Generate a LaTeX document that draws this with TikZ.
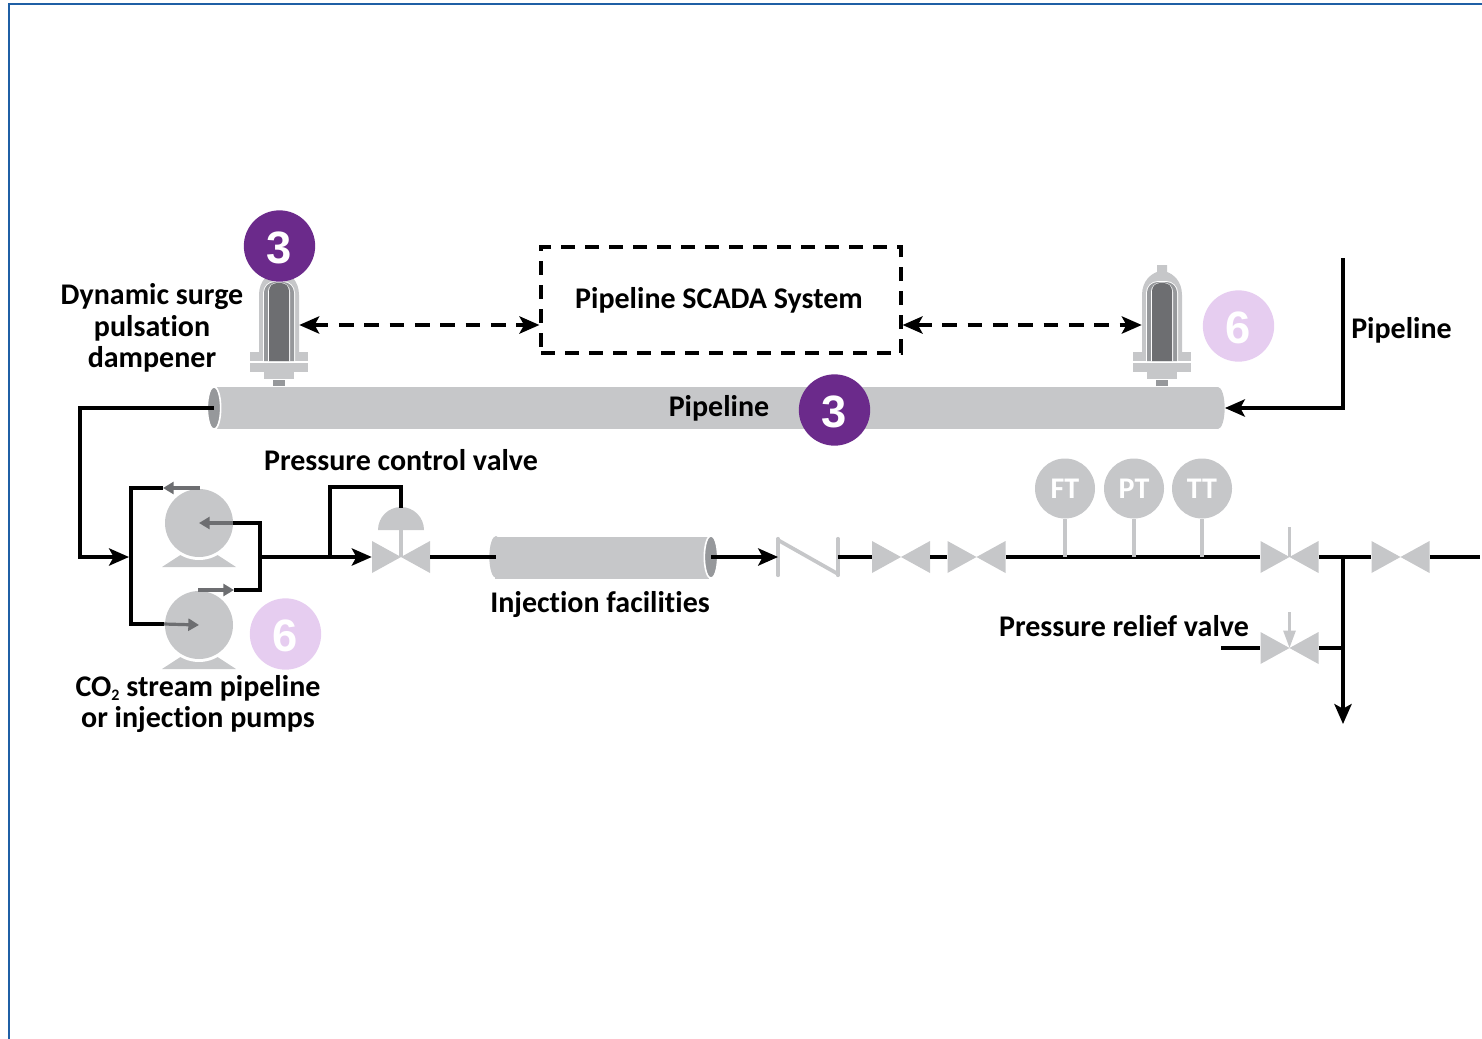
\documentclass[tikz,border=0pt]{standalone}
\usepackage{fontspec}
\setmainfont{Carlito}[Ligatures=CommonOff]
\newfontfamily\numfont{Liberation Sans}
\usetikzlibrary{arrows.meta, positioning, calc, shapes.geometric}
\definecolor{framec}{HTML}{1F5FA5}
\definecolor{pipec}{HTML}{C6C7C9}
\definecolor{pipeendc}{HTML}{96989B}
\definecolor{corec}{HTML}{6D6E71}
\definecolor{purplec}{HTML}{6B2A8B}
\definecolor{lilacc}{HTML}{E6CDF0}
\newcommand{\dampener}[2]{%
  \begin{scope}[shift={(#2,0)}]
    \fill[pipec] (-20,355) -- (-20,295) .. controls (-20,281) and (-11,274) .. (-5,272) -- (-5,265) -- (5,265) -- (5,272)
      .. controls (11,274) and (20,281) .. (20,295) -- (20,355) -- cycle;
    \fill[pipec] (-29,352) rectangle (29,372);
    \fill[pipec] (-15,372) rectangle (15,379);
    \fill[pipeendc] (-6,380) rectangle (6,386);
    \fill[white] (-29,361) rectangle (29,362.5);
    \fill[white, rounded corners=9pt] (-16,361) -- (-16,281) -- (16,281) [sharp corners] -- (16,361) -- cycle;
    \fill[pipeendc, rounded corners=8pt] (-15,361) -- (-15,282) -- (15,282) [sharp corners] -- (15,361) -- cycle;
    \fill[white, rounded corners=7pt] (-11,361) -- (-11,282.5) -- (11,282.5) [sharp corners] -- (11,361) -- cycle;
    \fill[corec, rounded corners=6pt] (-10,361) -- (-10,283) -- (10,283) [sharp corners] -- (10,361) -- cycle;
    \node[inner sep=0pt, minimum width=30pt, minimum height=10pt] (#1) at (0,325) {};
  \end{scope}}
\newcommand{\pump}[3]{%
  \fill[pipec] (#2-37,#3+44) -- (#2-17,#3+31) -- (#2+17,#3+31) -- (#2+37,#3+44) -- cycle;
  \fill[white] (#2,#3) circle (37);
  \node[pumpdisc] (#1) at (#2,#3) {};}
\begin{document}
\begin{tikzpicture}[x=0.75pt, y=-0.75pt, font=\fontsize{22.5}{23.6}\selectfont\bfseries,
  t/.style={inner sep=0pt, align=center},
  badgeA/.style={circle, fill=purplec, text=white, inner sep=0pt, minimum size=53.5pt, text height=27pt, font=\fontsize{34}{34}\selectfont\numfont\bfseries},
  badgeB/.style={badgeA, fill=lilacc},
  gauge/.style={circle, fill=pipec, text=white, inner sep=0pt, minimum size=45pt},
  pumpdisc/.style={circle, fill=pipec, inner sep=0pt, minimum size=51pt},
  valve/.style={inner sep=0pt, minimum width=43.5pt, minimum height=24pt,
    path picture={\fill[pipec] (path picture bounding box.north west) -- (path picture bounding box.south east)
      -- (path picture bounding box.north east) -- (path picture bounding box.south west) -- cycle;}},
  pipebody/.style={fill=pipec, inner sep=0pt},
  pipecap/.style={ellipse, fill=pipec, inner sep=0pt, minimum width=10pt, minimum height=31.5pt},
  pipeend/.style={ellipse, fill=pipeendc, draw=white, line width=1.2pt, inner sep=0pt, minimum width=10pt, minimum height=32pt},
  scadabox/.style={draw, line width=2.4pt, dash pattern=on 10.5pt off 7.5pt, minimum width=270pt, minimum height=79.5pt, inner sep=0pt},
  a/.style={-{Stealth[length=15pt, width=13pt, inset=3.5pt]}, line width=2.4pt, draw=black},
  b/.style={line width=2.4pt, draw=black},
  d/.style={{Stealth[length=15pt, width=13pt, inset=3.5pt]}-{Stealth[length=15pt, width=13pt, inset=3.5pt]}, line width=2.4pt, dash pattern=on 11pt off 8pt},
  g/.style={-{Triangle[length=8pt, width=9pt]}, line width=2.4pt, draw=corec},
  stem/.style={line width=2.8pt, draw=pipec}]
  \useasboundingbox (0,0) rectangle (1482,1039);
  \draw[framec, line width=1.5pt] (1482,4) -- (9,4) -- (9,1039);
  % pipe and dampeners
  \dampener{dampL}{279}
  \dampener{dampR}{1162}
  \node[pipecap] (pipeCap) at (1218,408) {};
  \node[pipebody, minimum width=751pt, minimum height=32pt] (pipeMain) at (717.5,408) {};
  \node[pipeend] (pipeEnd) at (214,408) {};
  \node[t] (pipeLab) at (719,408.5) {Pipeline};
  \node[scadabox] (scada) at (721,300) {};
  \node[t] (scadaLab) at (719,300) {Pipeline SCADA System};
  \node[t] (dampLab) at (152,328) {Dynamic surge\\pulsation\\dampener};
  \node[t, anchor=west] (feedLab) at (1351,330) {Pipeline};
  \draw[d] (dampL.east) -- ([yshift=-18.75pt]scada.west);
  \draw[d] ([yshift=-18.75pt]scada.east) -- (dampR.west);
  \coordinate (feedTop) at (1343,258);
  \draw[a] (feedTop) |- (pipeCap.east);
  % pumps
  \pump{pumpA}{199}{523}
  \pump{pumpB}{199}{625}
  \node[badgeB] (sixB) at (285.5,634) {6};
  \node[t] (pumpLab) at (198,704) {CO\raisebox{-3.5pt}{\fontsize{12}{12}\selectfont 2} stream pipeline\\or injection pumps};
  \coordinate (busIn) at (129,557);
  \coordinate (busTop) at (131,488);
  \coordinate (busBot) at (131,624);
  \coordinate (topTail) at (200,488);
  \coordinate (topTip) at (163,488);
  \coordinate (botTail) at (198,590);
  \coordinate (botTip) at (234,590);
  \coordinate (outBus) at (260,557);
  \draw[a] (pipeEnd.center) -| (80,557) -- (busIn);
  \draw[b] (topTip) -- (busTop) -- (busBot) -- (164,624);
  \draw[b] (pumpA.east) -| (outBus) |- (botTip);
  \draw[g] (topTail) -- (topTip);
  \draw[g] (pumpA.east) -- (pumpA.center);
  \draw[g] (botTail) -- (botTip);
  \draw[g] (164,624) -- (pumpB.center);
  % main line
  \node[valve] (pcv) at (401,557) {};
  \node[pipecap] (tubeCap) at (496,557) {};
  \node[pipebody, minimum width=160pt, minimum height=32pt] (tube) at (602,558) {};
  \node[pipeend] (tubeEnd) at (711,557) {};
  \node[t] (tubeLab) at (600,605) {Injection facilities};
  \node[inner sep=0pt, minimum width=44.5pt, minimum height=27pt] (check) at (808,557) {};
  \node[valve] (vA) at (901,557) {};
  \node[valve] (vB) at (976.5,557) {};
  \node[valve] (vC) at (1289.5,557) {};
  \node[valve] (vD) at (1400.5,557) {};
  \node[valve] (vE) at (1289.5,648) {};
  \fill[pipec] (378,530) arc (180:360:23) -- cycle;
  \coordinate (ctlTop) at (401,508);
  \draw[stem] (ctlTop |- 0,530) -- (pcv.center);
  \draw[stem, line cap=round] (check.north west) -- (check.south west);
  \draw[stem, line cap=round] (check.north east) -- (check.south east);
  \draw[stem] ([yshift=-1pt]check.north west) -- ([yshift=1pt]check.south east);
  \draw[a] (outBus) -- (pcv.west);
  \draw[b] (330,557) |- (401,487) -- (ctlTop);
  \draw[b] (pcv.east) -- (tubeCap.center);
  \draw[a] (tubeEnd.center) -- (check.west);
  \draw[b] (check.east) -- (vA.west);
  \draw[b] (vA.east) -- (vB.west);
  \draw[b] (vB.east) -- (vC.west);
  \draw[b] (vC.east) -- (vD.west);
  \coordinate (lineEnd) at (1480,557);
  \draw[b] (vD.east) -- (lineEnd);
  % gauges
  \node[gauge] (ft) at (1065,488.5) {FT};
  \node[gauge] (pt) at (1134,488.5) {PT};
  \node[gauge] (tt) at (1202,488.5) {TT};
  \draw[stem] (ft.south) -- (ft |- vC);
  \draw[stem] (pt.south) -- (pt |- vC);
  \draw[stem] (tt.south) -- (tt |- vC);
  \coordinate (vCtop) at (1289.5,527);
  \draw[stem] (vCtop) -- (vC.center);
  % relief branch
  \coordinate (drain) at (1343,724);
  \coordinate (reliefIn) at (1221,648);
  \coordinate (reliefTop) at (1289.5,612);
  \draw[a] (1343,557) -- (drain);
  \draw[b] (reliefIn) -- (vE.west);
  \draw[b] (vE.east) -- (1341,648);
  \draw[-{Triangle[length=13pt, width=9pt]}, line width=2pt, draw=pipec] (reliefTop) -- (vE.center);
  \node[t] (reliefLab) at (1124,626) {Pressure relief valve};
  \node[t] (pcvLab) at (401,460) {Pressure control valve};
  % badges
  \node[badgeA] (threeA) at (279.5,246) {3};
  \node[badgeA] (threeB) at (834.5,410) {3};
  \node[badgeB] (sixA) at (1238.5,326) {6};
\end{tikzpicture}
\end{document}
